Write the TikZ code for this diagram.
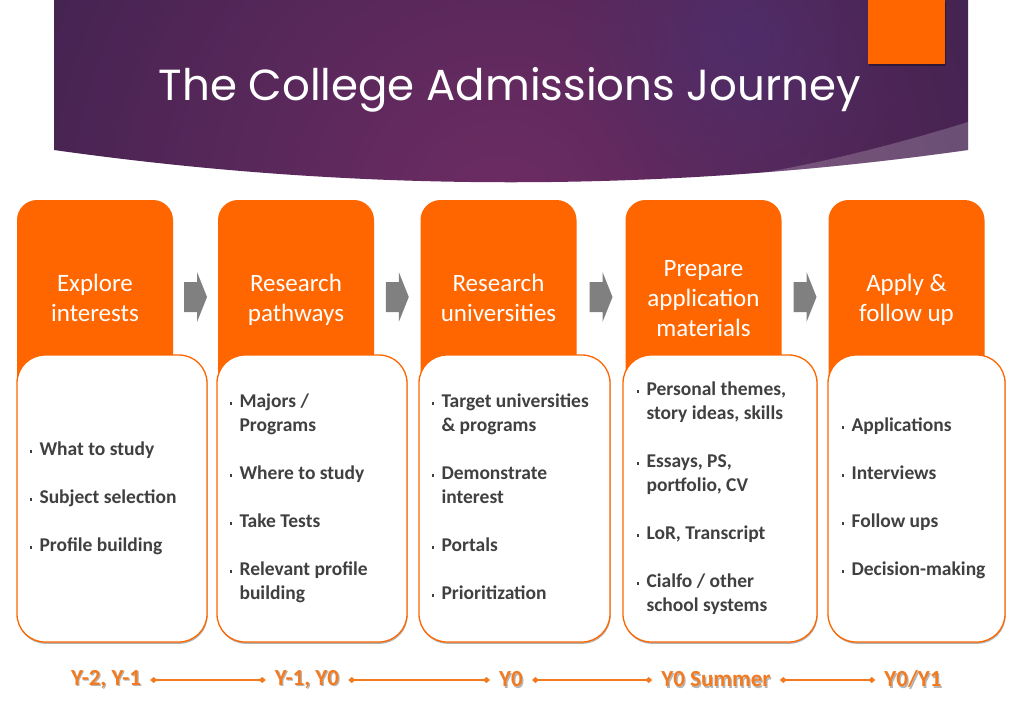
\documentclass[tikz,border=0pt]{standalone}
\usepackage{fontspec}
\setmainfont{Carlito}
\newfontfamily\titlefont{Poppins}
\usetikzlibrary{arrows.meta,shadows,fadings,calc}
\definecolor{hdark}{HTML}{33204A}
\definecolor{hmag}{HTML}{6D2C63}
\definecolor{hspot}{HTML}{4E2F6E}
\definecolor{orng}{HTML}{FF6600}
\definecolor{tline}{HTML}{F47A20}
\definecolor{tshadow}{HTML}{B5B5B5}
\definecolor{bodygray}{HTML}{404040}
\definecolor{arrowgray}{HTML}{808080}
\tikzfading[name=spotfade, inner color=transparent!0, outer color=transparent!100]
\newcommand\bul{\makebox[10pt][l]{\raisebox{2.5pt}{\rule{2.6pt}{2.6pt}}}}
\newcommand\shtext[1]{\makebox[0pt][l]{\hspace{1.2pt}\raisebox{-1.2pt}{\textcolor{tshadow}{#1}}}#1}
\begin{document}
\begin{tikzpicture}[x=1pt,y=-1pt,
  stage/.style={fill=orng, rounded corners=20pt, minimum width=156pt, minimum height=200pt,
    inner sep=0pt, text=white, align=center, font=\fontsize{25}{30}\selectfont},
  detail/.style={fill=white, draw=orng, line width=1.3pt, rounded corners=28pt,
    minimum height=287pt, inner sep=0pt,
    drop shadow={shadow xshift=0.6pt, shadow yshift=-1.8pt, opacity=0.3, fill=black}},
  items/.style={anchor=west, inner sep=0pt, text=bodygray,
    font=\bfseries\fontsize{19.5}{24}\selectfont},
  tlabel/.style={inner sep=0pt, text=tline, font=\bfseries\fontsize{23}{26}\selectfont},
  tconn/.style={draw=tline, line width=1.6pt, {Diamond[length=7pt,width=6pt]}-{Diamond[length=7pt,width=6pt]},
    shorten <=9pt, shorten >=9pt},
  blockarrow/.pic={\fill[arrowgray] (-11.5,-18) -- (1.5,-18) -- (1.5,-28) -- (11.5,-3)
    -- (1.5,22) -- (1.5,12) -- (-11.5,12) -- cycle;}
]
\useasboundingbox (0,0) rectangle (1024,710);
\fill[white] (0,0) rectangle (1024,710);

% header band
\begin{scope}
  \clip (54,0) -- (968,0) -- (968,150) .. controls (663,193) and (359,193) .. (54,150) -- cycle;
  \shade[inner color=hmag, outer color=hdark] (500,210) circle (720);
  \fill[hspot, opacity=0.75, path fading=spotfade] (740,40) circle (170);
  \fill[white, opacity=0.2] (968,122) .. controls (910,140) and (820,165) .. (730,178)
    -- (730,230) -- (968,230) -- cycle;
\end{scope}
\node[fill=orng, minimum width=77pt, minimum height=64pt, inner sep=0pt,
  drop shadow={shadow xshift=1pt, shadow yshift=-1.5pt, opacity=0.35, fill=black}] (corner) at (906.5,32) {};
\node[anchor=base, text=white, font=\titlefont\fontsize{43.5}{50}\selectfont] (title) at (510,100)
  {The College Admissions Journey};

% stages
\node[stage] (s1) at (95,300) {\strut Explore\\interests\strut};
\node[stage] (s2) at (296,300) {\strut Research\\pathways\strut};
\node[stage] (s3) at (498.5,300) {\strut Research\\universities\strut};
\node[stage] (s4) at (703.5,300) {\strut Prepare\\application\\materials\strut};
\node[stage] (s5) at (906.5,300) {\strut Apply \&\\follow up\strut};

\pic at ($(s1.east)!0.5!(s2.west)$) {blockarrow};
\pic at ($(s2.east)!0.5!(s3.west)$) {blockarrow};
\pic at ($(s3.east)!0.5!(s4.west)$) {blockarrow};
\pic at ($(s4.east)!0.5!(s5.west)$) {blockarrow};

% detail boxes
\node[detail, minimum width=190pt] (d1) at (112,498.5) {};
\node[detail, minimum width=190pt] (d2) at (312,498.5) {};
\node[detail, minimum width=191pt] (d3) at (514.5,498.5) {};
\node[detail, minimum width=194pt] (d4) at (720,498.5) {};
\node[detail, minimum width=177pt] (d5) at (916.5,498.5) {};

\node[items] (i1) at ($(d1.west)+(13,0)$) {\begin{tabular}{@{}l@{}l@{}}
  \bul & What to study\\[24pt]
  \bul & Subject selection\\[24pt]
  \bul & Profile building
\end{tabular}};
\node[items] (i2) at ($(d2.west)+(13,0)$) {\begin{tabular}{@{}l@{}l@{}}
  \bul & Majors /\\ & Programs\\[24pt]
  \bul & Where to study\\[24pt]
  \bul & Take Tests\\[24pt]
  \bul & Relevant profile\\ & building
\end{tabular}};
\node[items] (i3) at ($(d3.west)+(13,0)$) {\begin{tabular}{@{}l@{}l@{}}
  \bul & Target universities\\ & \& programs\\[24pt]
  \bul & Demonstrate\\ & interest\\[24pt]
  \bul & Portals\\[24pt]
  \bul & Prioritization
\end{tabular}};
\node[items] (i4) at ($(d4.west)+(14,0)$) {\begin{tabular}{@{}l@{}l@{}}
  \bul & Personal themes,\\ & story ideas, skills\\[24pt]
  \bul & Essays, PS,\\ & portfolio, CV\\[24pt]
  \bul & LoR, Transcript\\[24pt]
  \bul & Cialfo / other\\ & school systems
\end{tabular}};
\node[items] (i5) at ($(d5.west)+(14,0)$) {\begin{tabular}{@{}l@{}l@{}}
  \bul & Applications\\[24pt]
  \bul & Interviews\\[24pt]
  \bul & Follow ups\\[24pt]
  \bul & Decision-making
\end{tabular}};

% timeline
\node[tlabel] (t1) at (106,680) {\shtext{Y-2, Y-1}};
\node[tlabel] (t2) at (307,680) {\shtext{Y-1, Y0}};
\node[tlabel] (t3) at (511,680) {\shtext{Y0}};
\node[tlabel] (t4) at (716,680) {\shtext{Y0 Summer}};
\node[tlabel] (t5) at (913,680) {\shtext{Y0/Y1}};
\draw[tconn] (t1) -- (t2);
\draw[tconn] (t2) -- (t3);
\draw[tconn] (t3) -- (t4);
\draw[tconn] (t4) -- (t5);
\end{tikzpicture}
\end{document}
